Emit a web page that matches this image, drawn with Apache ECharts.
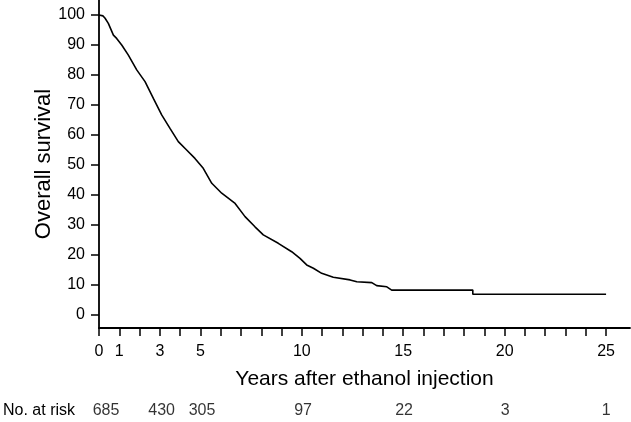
<!DOCTYPE html>
<html>
<head>
<meta charset="utf-8">
<script src="https://cdn.jsdelivr.net/npm/echarts@6/dist/echarts.min.js"></script>
<style>
html,body{margin:0;padding:0;background:#fff;}
#chart{width:631px;height:422px;}
</style>
</head>
<body>
<div id="chart"></div>
<script>
// Kaplan-Meier curve (years, % survival)
var years = [0, 0.2, 0.3, 0.46, 0.71, 0.87, 1.12, 1.44, 1.86, 2.27, 2.68, 3.09, 3.5, 3.91, 4.32, 4.73, 5.14, 5.56, 6.05, 6.71, 7.2, 7.69, 8.1, 8.84, 9.5, 9.91, 10.24, 10.57, 10.98, 11.55, 12.38, 12.71, 13.45, 13.69, 14.19, 14.43, 18.43, 18.43, 25.0];
var survival = [100, 99.7, 98.9, 97.2, 93.3, 92.2, 90, 86.7, 81.7, 77.8, 72.2, 66.7, 62.2, 57.8, 55, 52.2, 48.9, 43.9, 40.6, 37.2, 32.8, 29.4, 26.7, 23.9, 21.1, 18.9, 16.7, 15.6, 13.9, 12.6, 11.7, 11.1, 10.8, 9.8, 9.4, 8.3, 8.3, 6.9, 6.9];

// Axis ticks
var xTickValues = [0,1,2,3,4,5,6,7,8,9,10,11,12,13,14,15,16,17,18,19,20,21,22,23,24,25];
var xLabelValues = [0, 1, 3, 5, 10, 15, 20, 25];
var yTickValues = [0, 10, 20, 30, 40, 50, 60, 70, 80, 90, 100];

// Number at risk
var riskRowLabel = ['No. at risk'];
var riskYears = [0, 3, 5, 10, 15, 20, 25];
var riskCounts = [685, 430, 305, 97, 22, 3, 1];

var FONT = '"Liberation Sans", Arial, Helvetica, sans-serif';

var curveData = years.map(function (t, i) { return [t, survival[i]]; });
var riskData = riskYears.map(function (t, i) {
  var d = { value: [t, riskRowLabel[0], riskCounts[i]] };
  if (i === 0) d.label = { offset: [5, 0] };
  return d;
});

var chart = echarts.init(document.getElementById('chart'), null, { renderer: 'canvas' });
chart.setOption({
  animation: false,
  backgroundColor: '#ffffff',
  grid: [
    { left: 99, right: 1, top: 0, bottom: 94, containLabel: false },
    { left: 99, right: 1, top: 402, height: 18, containLabel: false }
  ],
  xAxis: [
    {
      type: 'value', gridIndex: 0, min: 0, max: 26.18,
      name: 'Years after ethanol injection', nameLocation: 'middle', nameGap: 41, nameMoveOverlap: false,
      nameTextStyle: { fontFamily: FONT, fontSize: 21, color: '#000' },
      axisLine: { show: true, onZero: false, lineStyle: { color: '#000', width: 1.8 } },
      axisTick: { show: true, length: 8, inside: false, customValues: xTickValues, lineStyle: { color: '#000', width: 1.5 } },
      axisLabel: { show: true, customValues: xLabelValues, margin: 16, fontFamily: FONT, fontSize: 16, color: '#000' },
      splitLine: { show: false }
    },
    {
      type: 'value', gridIndex: 1, min: 0, max: 26.18,
      axisLine: { show: false }, axisTick: { show: false }, axisLabel: { show: false }, splitLine: { show: false }
    }
  ],
  yAxis: [
    {
      type: 'value', gridIndex: 0, min: -4.33, max: 105,
      name: 'Overall survival', nameLocation: 'middle', nameGap: 44, nameMoveOverlap: false,
      nameTextStyle: { fontFamily: FONT, fontSize: 22, color: '#000' },
      axisLine: { show: true, onZero: false, lineStyle: { color: '#000', width: 1.8 } },
      axisTick: { show: true, length: 8, inside: false, customValues: yTickValues, lineStyle: { color: '#000', width: 1.5 } },
      axisLabel: { show: true, customValues: yTickValues, margin: 14, fontFamily: FONT, fontSize: 16, color: '#000' },
      splitLine: { show: false }
    },
    {
      type: 'category', gridIndex: 1, data: riskRowLabel,
      axisLine: { show: false }, axisTick: { show: false }, splitLine: { show: false },
      axisLabel: { show: true, margin: 26, fontFamily: FONT, fontSize: 16, color: '#000' }
    }
  ],
  series: [
    {
      type: 'line', xAxisIndex: 0, yAxisIndex: 0,
      data: curveData, showSymbol: false, symbol: 'none',
      lineStyle: { color: '#000', width: 1.6 }
    },
    {
      type: 'scatter', xAxisIndex: 1, yAxisIndex: 1,
      data: riskData, symbolSize: 0, symbol: 'circle',
      itemStyle: { color: 'transparent' },
      label: {
        show: true, position: 'inside', fontFamily: FONT, fontSize: 16, color: '#000',
        formatter: function (p) { return String(p.value[2]); }
      }
    }
  ]
});
</script>
</body>
</html>
